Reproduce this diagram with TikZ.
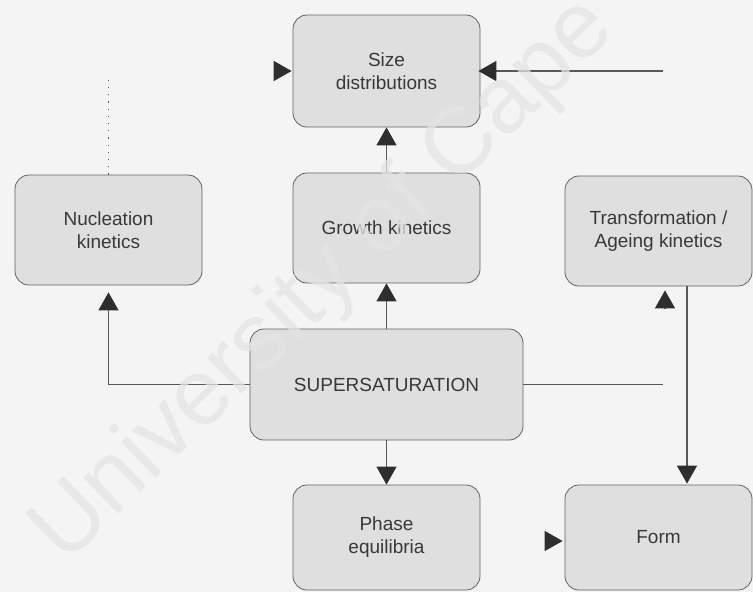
\documentclass[tikz,border=0pt]{standalone}
\usepackage{fontspec}
\setmainfont{Liberation Sans}
\usetikzlibrary{arrows.meta}

\definecolor{paper}{HTML}{F4F4F4}
\definecolor{boxfill}{HTML}{DFDFDF}
\definecolor{boxline}{HTML}{626262}
\definecolor{ink}{HTML}{383838}
\definecolor{wire}{HTML}{585858}
\definecolor{tipcol}{HTML}{2E2E2E}
\definecolor{wmark}{HTML}{E4E4E4}

\tikzset{
  box/.style={draw=boxline, line width=0.8pt, fill=boxfill,
    rounded corners=14pt, minimum width=187pt, minimum height=110pt,
    align=center, text=ink, inner sep=0pt,
    font=\fontsize{19}{23}\selectfont},
  wire/.style={draw=wire, line width=1.3pt},
  arrow/.style={wire, -{Triangle[length=18pt,width=20pt,color=tipcol]}},
  faint/.style={draw=wire, line width=1pt, dash pattern=on 1.2pt off 6pt},
  wmtext/.style={text=wmark, text opacity=0.75, inner sep=0pt,
    font=\fontsize{94}{94}\selectfont}
}

\begin{document}
\begin{tikzpicture}[x=1pt, y=-1pt]
  % page with its margins
  \fill[paper] (0,0) rectangle (753,592);
  \useasboundingbox (0,0) rectangle (753,592);

  % boxes
  \node[box] (size)   at (386.5, 71)  [minimum height=112pt] {Size\\distributions};
  \node[box] (nucl)   at (108.5, 230) {Nucleation\\kinetics};
  \node[box] (growth) at (386.5, 228) {Growth kinetics};
  \node[box] (trans)  at (658.5, 231) {Transformation /\\Ageing kinetics};
  \node[box] (super)  at (386.5, 384.5) [minimum width=273pt, minimum height=111pt] {SUPERSATURATION};
  \node[box] (phase)  at (386.5, 537.5) [minimum height=105pt] {Phase\\equilibria};
  \node[box] (form)   at (658.5, 537.5) [minimum height=105pt] {Form};

  % free ends of connectors
  \coordinate (nuclTop)  at (108.5, 78);
  \coordinate (sizeIn)   at (276, 71);
  \coordinate (sizeFeed) at (663, 71);
  \coordinate (superEnd) at (663, 384.5);
  \coordinate (transIn)  at (665, 309);
  \coordinate (transOut) at (687, 286);
  \coordinate (formIn)   at (546, 541);

  % connectors
  \draw[arrow] (super.north) -- (growth.south);
  \draw[arrow] (growth.north) -- (size.south);
  \draw[arrow] (super.south) -- (phase.north);
  \draw[arrow, shorten >=7pt] (super.west) -| (nucl.south);
  \draw[faint] (nucl.north) -- (nuclTop);
  \draw[arrow, shorten >=1pt] (sizeIn) -- (size.west);
  \draw[arrow, shorten >=-2pt] (sizeFeed) -- (size.east);
  \draw[wire] (super.east) -- (superEnd);
  \draw[arrow, shorten >=4pt] (transIn) -- (transIn |- trans.south);
  \draw[arrow, shorten >=1pt] (transOut) -- (transOut |- form.north);
  \draw[arrow, shorten >=2pt] (formIn) -- (formIn -| form.west);

  % watermark across the sheet
  \node[wmtext, rotate=44, anchor=base west] (wm) at (65, 566) {University of Cape};
\end{tikzpicture}
\end{document}
